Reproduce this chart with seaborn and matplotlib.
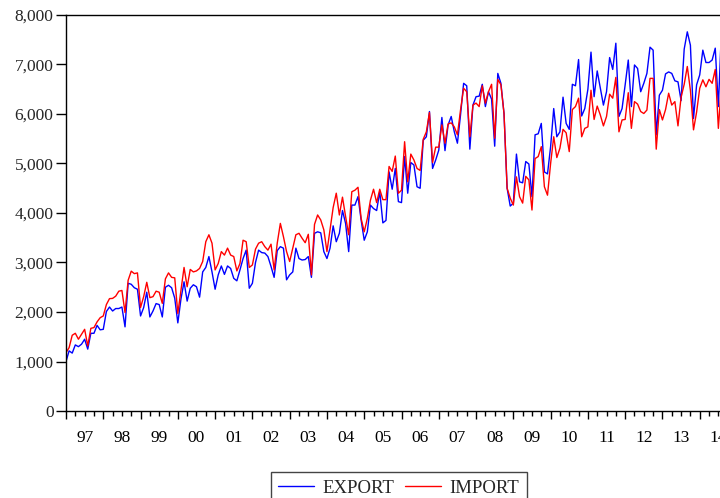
import numpy as np
import pandas as pd
import seaborn as sns
import matplotlib.pyplot as plt
from matplotlib.ticker import MultipleLocator, FuncFormatter, NullFormatter

# monthly data starting 1997M01
start_year = 1997
export_vals = [
    1000, 1215, 1170, 1335, 1300, 1350, 1450, 1250, 1570, 1570, 1730, 1640,
    1650, 2010, 2100, 2020, 2070, 2070, 2100, 1700, 2580, 2560, 2490, 2460,
    1920, 2090, 2400, 1900, 2020, 2170, 2150, 1900, 2500, 2540, 2490, 2280,
    1780, 2260, 2610, 2220, 2480, 2550, 2510, 2300, 2810, 2900, 3120, 2810,
    2460, 2750, 2930, 2760, 2930, 2880, 2680, 2630, 2850, 3080, 3250, 2480,
    2580, 3000, 3250, 3200, 3190, 3120, 2920, 2700, 3240, 3320, 3290, 2650,
    2750, 2810, 3290, 3080, 3050, 3060, 3120, 2700, 3590, 3620, 3600, 3220,
    3080, 3290, 3740, 3420, 3590, 4050, 3790, 3220, 4160, 4160, 4330, 3860,
    3450, 3620, 4160, 4090, 4050, 4430, 3800, 3850, 4830, 4480, 4900, 4230,
    4210, 5140, 4400, 5020, 4970, 4530, 4500, 5470, 5540, 6050, 4900, 5070,
    5270, 5930, 5260, 5780, 5950, 5640, 5410, 5980, 6620, 6570, 5290, 6180,
    6350, 6360, 6600, 6150, 6450, 6300, 5350, 6820, 6620, 6010, 4500, 4140,
    4200, 5190, 4630, 4610, 5040, 4990, 4330, 5580, 5600, 5810, 4830, 4790,
    5340, 6110, 5540, 5640, 6340, 5810, 5690, 6600, 6570, 7100, 5960, 6110,
    6500, 7250, 6350, 6870, 6520, 6180, 6450, 7140, 6900, 7430, 5950, 6110,
    6590, 7090, 6150, 6990, 6920, 6450, 6620, 6820, 7350, 7290, 5580, 6380,
    6480, 6810, 6850, 6820, 6670, 6650, 6270, 7310, 7660, 7390, 5910, 6590,
    6790, 7290, 7040, 7040, 7090, 7330, 6150, 7700,
]
import_vals = [
    1180, 1280, 1530, 1570, 1450, 1550, 1650, 1315, 1670, 1685, 1800, 1885,
    1920, 2150, 2270, 2275, 2320, 2420, 2435, 1990, 2640, 2825, 2775, 2790,
    2090, 2310, 2600, 2290, 2310, 2420, 2400, 2175, 2670, 2790, 2700, 2690,
    1970, 2440, 2900, 2510, 2860, 2810, 2830, 2880, 3020, 3420, 3560, 3390,
    2850, 2980, 3220, 3150, 3290, 3150, 3120, 2830, 2980, 3450, 3420, 2900,
    2950, 3270, 3390, 3420, 3320, 3250, 3370, 2850, 3390, 3790, 3520, 3220,
    3020, 3290, 3560, 3590, 3490, 3400, 3570, 2750, 3770, 3960, 3860, 3660,
    3220, 3660, 4110, 4400, 3960, 4320, 3930, 3560, 4430, 4460, 4520, 3890,
    3620, 3890, 4260, 4480, 4210, 4480, 4270, 4270, 4940, 4840, 5150, 4400,
    4460, 5440, 4630, 5190, 5070, 4900, 4860, 5490, 5640, 6030, 5020, 5330,
    5330, 5780, 5410, 5800, 5820, 5740, 5580, 6080, 6520, 6450, 5540, 6180,
    6220, 6150, 6570, 6220, 6450, 6600, 5510, 6700, 6590, 6010, 4500, 4300,
    4160, 4730, 4330, 4200, 4740, 4670, 4060, 5100, 5140, 5340, 4530, 4360,
    5000, 5540, 5120, 5310, 5690, 5620, 5240, 6090, 6150, 6320, 5540, 5710,
    5740, 6480, 5890, 6160, 5980, 5760, 5950, 6400, 6320, 6740, 5640, 5880,
    5890, 6430, 5710, 6250, 6200, 6050, 6010, 6080, 6720, 6720, 5290, 6090,
    5880, 6090, 6420, 6180, 6250, 5760, 6340, 6600, 6960, 6480, 5680, 6040,
    6520, 6690, 6550, 6700, 6620, 6900, 5710, 6600,
]
year_labels = ['97', '98', '99', '00', '01', '02', '03', '04', '05',
               '06', '07', '08', '09', '10', '11', '12', '13', '14']

t = start_year + np.arange(len(export_vals)) / 12
df = pd.DataFrame({'t': t, 'EXPORT': export_vals, 'IMPORT': import_vals})
df = df.melt(id_vars='t', var_name='series', value_name='value')

sns.set_style('ticks')
plt.rcParams['font.family'] = ['Liberation Serif', 'DejaVu Serif']

fig = plt.figure(figsize=(7.2, 4.98), dpi=100)
# axes runs past the right edge of the picture, like the cropped original
ax = fig.add_axes([66 / 720, 87 / 498, 671 / 720, 396 / 498])

sns.lineplot(data=df, x='t', y='value', hue='series',
             palette={'EXPORT': '#0000ff', 'IMPORT': '#ff0000'},
             linewidth=1.0, ax=ax)

ax.set_xlim(start_year, start_year + 18)
ax.set_ylim(0, 8000)
ax.set_xlabel('')
ax.set_ylabel('')

ax.yaxis.set_major_locator(MultipleLocator(1000))
ax.yaxis.set_major_formatter(FuncFormatter(lambda v, p: f'{int(v):,}'))
ax.xaxis.set_major_locator(MultipleLocator(1))
ax.xaxis.set_minor_locator(MultipleLocator(0.25))
ax.xaxis.set_major_formatter(NullFormatter())

# year labels sit in the middle of each year
for i, lab in enumerate(year_labels):
    ax.text(start_year + i + 0.5, -0.068, lab, transform=ax.get_xaxis_transform(),
            ha='center', va='center', fontsize=12.5, color='black')

ax.tick_params(axis='x', which='major', length=6, width=1, color='black')
ax.tick_params(axis='x', which='minor', length=3.5, width=1, color='black')
ax.tick_params(axis='y', length=7, width=1, labelsize=12.5, pad=2, color='black')

for s in ax.spines.values():
    s.set_color('black')
    s.set_linewidth(1)

handles, labels = ax.get_legend_handles_labels()
leg = ax.legend(handles, labels, loc='upper center', ncol=2,
                bbox_to_anchor=(398.5 / 720, 26 / 498), bbox_transform=fig.transFigure,
                borderaxespad=0, fontsize=13.5, frameon=True, fancybox=False,
                framealpha=1, edgecolor='#444444', handlelength=1.9,
                handletextpad=0.45, columnspacing=0.6, borderpad=0.4)
leg.get_frame().set_linewidth(1)

fig.savefig('out.png', dpi=100)
